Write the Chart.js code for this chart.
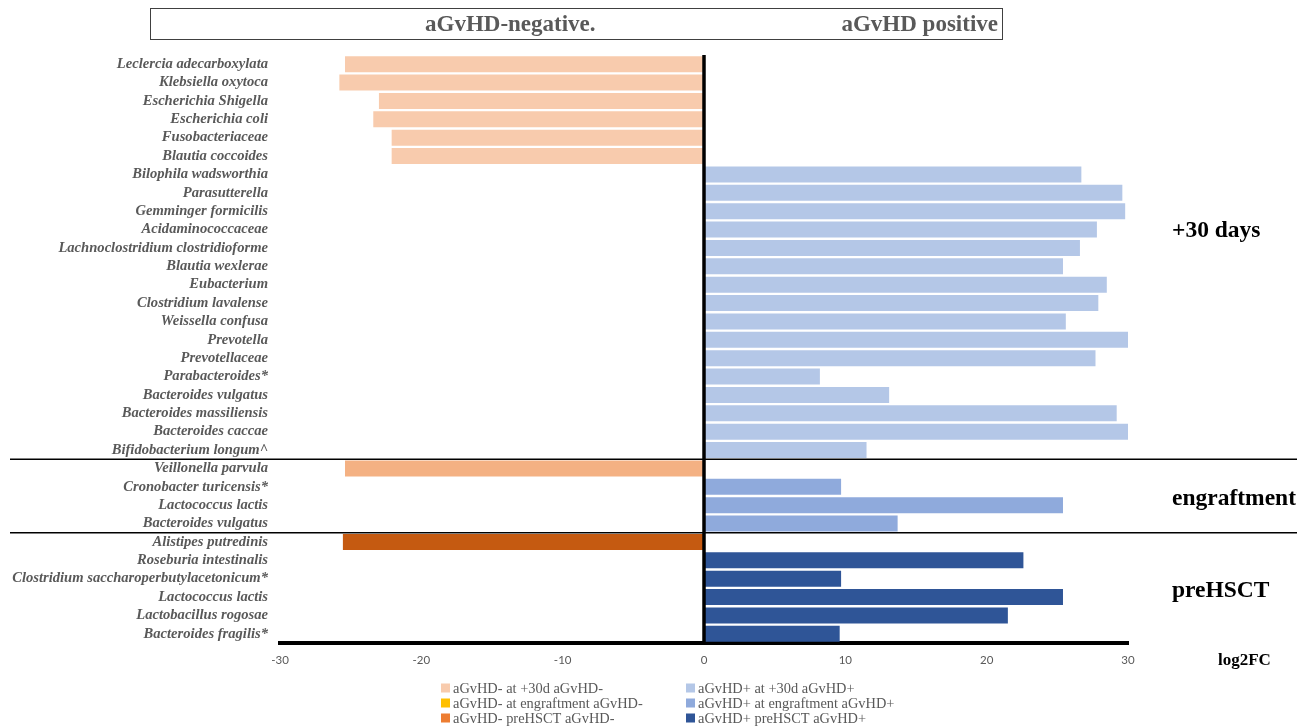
<!DOCTYPE html>
<html>
<head>
<meta charset="utf-8">
<script src="https://cdn.jsdelivr.net/npm/chart.js@4/dist/chart.umd.min.js"></script>
<style>
  html, body { margin: 0; padding: 0; background: #ffffff; }
  #wrap { width: 1314px; height: 726px; position: relative; }
</style>
</head>
<body>
<div id="wrap"><canvas id="c" width="1314" height="726"></canvas></div>
<script>
// Taxa, top to bottom: +30 days, engraftment, preHSCT
const categories = [
  'Leclercia adecarboxylata', 'Klebsiella oxytoca', 'Escherichia Shigella', 'Escherichia coli',
  'Fusobacteriaceae', 'Blautia coccoides', 'Bilophila wadsworthia', 'Parasutterella',
  'Gemminger formicilis', 'Acidaminococcaceae', 'Lachnoclostridium clostridioforme', 'Blautia wexlerae',
  'Eubacterium', 'Clostridium lavalense', 'Weissella confusa', 'Prevotella',
  'Prevotellaceae', 'Parabacteroides*', 'Bacteroides vulgatus', 'Bacteroides massiliensis',
  'Bacteroides caccae', 'Bifidobacterium longum^',
  'Veillonella parvula', 'Cronobacter turicensis*', 'Lactococcus lactis', 'Bacteroides vulgatus',
  'Alistipes putredinis', 'Roseburia intestinalis', 'Clostridium saccharoperbutylacetonicum*',
  'Lactococcus lactis', 'Lactobacillus rogosae', 'Bacteroides fragilis*'
];

// log2FC per series (null where the taxon belongs to another series)
const neg30d = [-25.4, -25.8, -23.0, -23.4, -22.1, -22.1,
  null, null, null, null, null, null, null, null, null, null, null, null, null, null, null, null,
  null, null, null, null, null, null, null, null, null, null];
const pos30d = [null, null, null, null, null, null,
  26.7, 29.6, 29.8, 27.8, 26.6, 25.4, 28.5, 27.9, 25.6, 30.0, 27.7, 8.2, 13.1, 29.2, 30.0, 11.5,
  null, null, null, null, null, null, null, null, null, null];
const negEngraftment = [null, null, null, null, null, null,
  null, null, null, null, null, null, null, null, null, null, null, null, null, null, null, null,
  -25.4, null, null, null, null, null, null, null, null, null];
const posEngraftment = [null, null, null, null, null, null,
  null, null, null, null, null, null, null, null, null, null, null, null, null, null, null, null,
  null, 9.7, 25.4, 13.7, null, null, null, null, null, null];
const negPreHSCT = [null, null, null, null, null, null,
  null, null, null, null, null, null, null, null, null, null, null, null, null, null, null, null,
  null, null, null, null, -25.55, null, null, null, null, null];
const posPreHSCT = [null, null, null, null, null, null,
  null, null, null, null, null, null, null, null, null, null, null, null, null, null, null, null,
  null, null, null, null, null, 22.6, 9.7, 25.4, 21.5, 9.6];

const xTicks = [-30, -20, -10, 0, 10, 20, 30];

const seriesLabels = [
  'aGvHD- at +30d aGvHD-', 'aGvHD- at engraftment aGvHD-', 'aGvHD- preHSCT aGvHD-',
  'aGvHD+ at +30d aGvHD+', 'aGvHD+ at engraftment aGvHD+', 'aGvHD+ preHSCT aGvHD+'
];
const barColors = ['#F8CBAD', '#F4B183', '#C55A11', '#B4C7E7', '#8FAADC', '#2F5597'];
const keyColors = ['#F8CBAD', '#FFC000', '#ED7D31', '#B4C7E7', '#8FAADC', '#2F5597'];
const seriesData = [neg30d, negEngraftment, negPreHSCT, pos30d, posEngraftment, posPreHSCT];

// timepoint labels, anchored to fractional category positions
const groupLabels = [
  { text: '+30 days', at: 9.1 },
  { text: 'engraftment', at: 23.65 },
  { text: 'preHSCT', at: 28.65 }
];
// boundaries between timepoint blocks (after these category indices)
const groupBreaks = [21, 25];

const SERIF = '"Liberation Serif", "Times New Roman", serif';
const GREY = '#595959';

const overlay = {
  id: 'overlay',
  afterDatasetsDraw(chart) {
    const { ctx, chartArea, scales } = chart;
    const x = scales.x, y = scales.y;
    ctx.save();

    // vertical zero line
    const x0 = x.getPixelForValue(0);
    ctx.strokeStyle = '#000';
    ctx.lineWidth = 3.5;
    ctx.beginPath();
    ctx.moveTo(x0, chartArea.top);
    ctx.lineTo(x0, chartArea.bottom + 2);
    ctx.stroke();

    // separators between timepoints
    ctx.lineWidth = 1.5;
    groupBreaks.forEach(i => {
      const yy = (y.getPixelForValue(i) + y.getPixelForValue(i + 1)) / 2;
      ctx.beginPath();
      ctx.moveTo(10, yy);
      ctx.lineTo(1297, yy);
      ctx.stroke();
    });

    // timepoint labels
    ctx.fillStyle = '#000';
    ctx.font = 'bold 23.5px ' + SERIF;
    ctx.textAlign = 'left';
    ctx.textBaseline = 'middle';
    groupLabels.forEach(g => {
      ctx.fillText(g.text, 1172, y.getPixelForValue(g.at));
    });

    // axis title
    ctx.font = 'bold 17px ' + SERIF;
    ctx.fillText('log2FC', 1218, 661);

    // header box
    ctx.strokeStyle = '#404040';
    ctx.lineWidth = 1;
    ctx.strokeRect(150.5, 8.5, 852, 31);
    ctx.fillStyle = GREY;
    ctx.font = 'bold 23px ' + SERIF;
    ctx.textAlign = 'left';
    ctx.fillText('aGvHD-negative.', 425, 25);
    ctx.textAlign = 'right';
    ctx.fillText('aGvHD positive', 998, 25);

    // key, two columns of three
    ctx.font = '14.4px ' + SERIF;
    ctx.textAlign = 'left';
    seriesLabels.forEach((lab, i) => {
      const col = Math.floor(i / 3), row = i % 3;
      const bx = col === 0 ? 441 : 686;
      const cy = 688 + row * 15;
      ctx.fillStyle = keyColors[i];
      ctx.fillRect(bx, cy - 4.5, 9, 9);
      ctx.fillStyle = GREY;
      ctx.fillText(lab, bx + 12, cy + 1);
    });

    ctx.restore();
  }
};

new Chart(document.getElementById('c'), {
  type: 'bar',
  data: {
    labels: categories,
    datasets: seriesData.map((d, i) => ({
      label: seriesLabels[i],
      data: d,
      backgroundColor: barColors[i],
      borderWidth: 0,
      barPercentage: 0.87,
      categoryPercentage: 1.0
    }))
  },
  options: {
    indexAxis: 'y',
    responsive: false,
    animation: false,
    layout: { padding: { top: 55, right: 186, bottom: 0, left: 0 } },
    plugins: { legend: { display: false }, tooltip: { enabled: false } },
    scales: {
      x: {
        stacked: true,
        min: -30, max: 30,
        afterBuildTicks(scale) { scale.ticks = xTicks.map(v => ({ value: v })); },
        afterFit(scale) { scale.height = 83; },
        grid: { display: false, drawTicks: false },
        border: { display: true, color: '#000', width: 4 },
        ticks: {
          color: GREY,
          padding: 10,
          font: { family: 'Lato, "Open Sans", sans-serif', size: 11.5 }
        }
      },
      y: {
        stacked: true,
        afterFit(scale) { scale.width = 280; },
        grid: { display: false, drawTicks: false },
        border: { display: false },
        ticks: {
          autoSkip: false,
          color: GREY,
          padding: 12,
          font: { family: SERIF, size: 14.6, style: 'italic', weight: 'bold' }
        }
      }
    }
  },
  plugins: [overlay]
});
</script>
</body>
</html>
